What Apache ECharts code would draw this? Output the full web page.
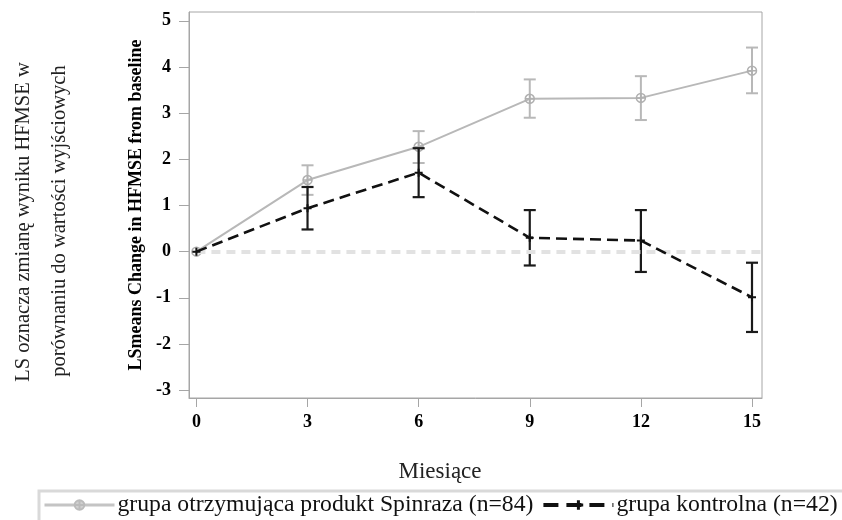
<!DOCTYPE html>
<html lang="pl">
<head>
<meta charset="UTF-8">
<title>LSmeans HFMSE</title>
<script src="https://cdn.jsdelivr.net/npm/echarts@6/dist/echarts.min.js"></script>
</head>
<body style="margin:0">
<div id="chart" style="width:842px;height:520px"></div>
<script>
// months on the x axis
var months = [0, 3, 6, 9, 12, 15];
var yTicks = [-3, -2, -1, 0, 1, 2, 3, 4, 5];

// Spinraza group: mean and error bar ends
var spinMean = [0, 1.55, 2.27, 3.31, 3.33, 3.92];
var spinLow  = [0, 1.23, 1.92, 2.90, 2.85, 3.43];
var spinHigh = [0, 1.87, 2.61, 3.73, 3.80, 4.42];

// control group
var ctrlMean = [0, 0.94, 1.71, 0.30, 0.24, -0.99];
var ctrlLow  = [0, 0.48, 1.18, -0.30, -0.44, -1.74];
var ctrlHigh = [0, 1.40, 2.24, 0.90, 0.90, -0.24];

var spinName = 'grupa otrzymująca produkt Spinraza (n=84)';
var ctrlName = 'grupa kontrolna (n=42)';

var serif = '"Liberation Serif", "Times New Roman", serif';
var circlePlus = 'path://M0,-10A10,10 0 1,1 0,10A10,10 0 1,1 0,-10Z M-10,0L10,0 M0,-10L0,10';
var plus = 'path://M-10,0L10,0 M0,-10L0,10';

function pairs(ys) {
    return months.map(function (m, i) { return [m, ys[i]]; });
}
function bars(lo, hi) {
    var out = [];
    months.forEach(function (m, i) {
        if (lo[i] !== hi[i]) out.push([m, lo[i], hi[i]]);
    });
    return out;
}
function errorBar(color, width) {
    return function (params, api) {
        var top = api.coord([api.value(0), api.value(2)]);
        var bot = api.coord([api.value(0), api.value(1)]);
        var st = { stroke: color, lineWidth: width };
        var h = 6;
        return {
            type: 'group',
            children: [
                { type: 'line', shape: { x1: top[0], y1: top[1], x2: bot[0], y2: bot[1] }, style: st },
                { type: 'line', shape: { x1: top[0] - h, y1: top[1], x2: top[0] + h, y2: top[1] }, style: st },
                { type: 'line', shape: { x1: bot[0] - h, y1: bot[1], x2: bot[0] + h, y2: bot[1] }, style: st }
            ]
        };
    };
}

var chart = echarts.init(document.getElementById('chart'));
chart.setOption({
    backgroundColor: '#fff',
    animation: false,
    grid: {
        left: 189, top: 12, right: 80, bottom: 122,
        show: true, borderColor: '#a6a6a6', borderWidth: 1
    },
    xAxis: {
        type: 'value', min: -0.2, max: 15.27,
        axisLine: { show: true, onZero: false, lineStyle: { color: '#a6a6a6' } },
        axisTick: { show: true, length: 9, customValues: months, lineStyle: { color: '#a6a6a6' } },
        axisLabel: { customValues: months, margin: 15, fontFamily: serif, fontWeight: 'bold', fontSize: 18, color: '#000' },
        splitLine: { show: false }
    },
    yAxis: {
        type: 'value', min: -3.17, max: 5.19,
        name: 'LSmeans Change in HFMSE from baseline', nameLocation: 'middle', nameRotate: 90, nameGap: 44,
        nameTextStyle: { fontFamily: serif, fontWeight: 'bold', fontSize: 18, color: '#000' },
        axisLine: { show: true, onZero: false, lineStyle: { color: '#a6a6a6' } },
        axisTick: { show: true, length: 10, customValues: yTicks, lineStyle: { color: '#a6a6a6' } },
        axisLabel: { customValues: yTicks, margin: 18, fontFamily: serif, fontWeight: 'bold', fontSize: 18, color: '#000' },
        splitLine: { show: false }
    },
    legend: {
        data: [
            { name: spinName, lineStyle: { width: 3, color: '#c4c4c4' }, itemStyle: { color: '#d0d0d0', borderColor: '#bbbbbb' } },
            { name: ctrlName, lineStyle: { width: 4, type: [15, 8] }, itemStyle: { borderWidth: 3 } }
        ],
        left: 39, top: 491, width: 900,
        padding: [2, 10, 6, 4],
        itemWidth: 70, itemHeight: 12, itemGap: 8,
        borderColor: '#d9d9d9', borderWidth: 3,
        textStyle: { fontFamily: serif, fontSize: 23.7, color: '#111', padding: [0, 0, 0, -2] }
    },
    graphic: [
        {
            type: 'text', x: 24, y: 222, rotation: Math.PI / 2,
            style: { text: 'LS oznacza zmianę wyniku HFMSE w', font: '20.5px ' + serif, fill: '#222', align: 'center', verticalAlign: 'middle' }
        },
        {
            type: 'text', x: 60, y: 221, rotation: Math.PI / 2,
            style: { text: 'porównaniu do wartości wyjściowych', font: '20.5px ' + serif, fill: '#222', align: 'center', verticalAlign: 'middle' }
        },
        {
            type: 'text', x: 440, y: 472,
            style: { text: 'Miesiące', font: '23px ' + serif, fill: '#222', align: 'center', verticalAlign: 'middle' }
        }
    ],
    series: [
        {
            type: 'custom', name: 'spinBars', data: bars(spinLow, spinHigh),
            renderItem: errorBar('#b8b8b8', 2), z: 2
        },
        {
            type: 'line', name: spinName, data: pairs(spinMean),
            symbol: circlePlus, symbolSize: 9,
            lineStyle: { color: '#b8b8b8', width: 2 },
            itemStyle: { color: 'rgba(0,0,0,0)', borderColor: '#b0b0b0', borderWidth: 1.5 },
            z: 3
        },
        {
            type: 'custom', name: 'ctrlBars', data: bars(ctrlLow, ctrlHigh),
            renderItem: errorBar('#1a1a1a', 2.2), z: 4
        },
        {
            type: 'line', name: ctrlName, data: pairs(ctrlMean),
            symbol: plus, symbolSize: 8, showSymbol: true,
            lineStyle: { color: '#111', width: 2.6, type: [11, 6] },
            itemStyle: { color: 'rgba(0,0,0,0)', borderColor: '#111', borderWidth: 2 },
            markLine: {
                silent: true, symbol: 'none', label: { show: false },
                lineStyle: { color: '#e2e2e2', width: 4, type: [9, 6] },
                data: [[{ coord: [0, 0] }, { coord: [15.27, 0] }]]
            },
            z: 5
        }
    ]
});
</script>
</body>
</html>
